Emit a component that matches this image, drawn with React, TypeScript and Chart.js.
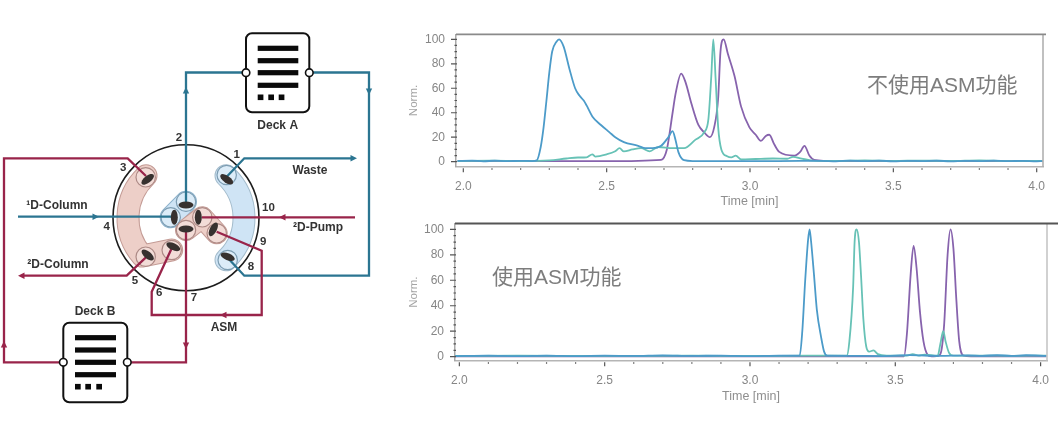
import React, { useEffect, useRef } from "react";
import { Chart, registerables } from "chart.js";

Chart.register(...registerables);

// ---------- chromatogram data (time in min, normalised signal) ----------
type Pair = [number, number];

const xTickValues = [2.0, 2.1, 2.2, 2.3, 2.4, 2.5, 2.6, 2.7, 2.8, 2.9, 3.0, 3.1, 3.2, 3.3, 3.4, 3.5, 3.6, 3.7, 3.8, 3.9, 4.0];
const xTickLabels = [2.0, 2.5, 3.0, 3.5, 4.0];
const yTickValues = [0, 5, 10, 15, 20, 25, 30, 35, 40, 45, 50, 55, 60, 65, 70, 75, 80, 85, 90, 95, 100];
const yTickLabels = [0, 20, 40, 60, 80, 100];

const topTitle = "不使用ASM功能";
const bottomTitle = "使用ASM功能";

const topBlue: Pair[] = [
  [1.98, 0.6], [2.03, 0.9], [2.07, 0.3], [2.11, 0.8], [2.15, 0.4], [2.2, 0.7], [2.24, 0.5], [2.256, 1], [2.27, 12], [2.28, 28], [2.29, 50], [2.3, 73], [2.31, 90], [2.325, 98],
  [2.334, 100], [2.35, 94], [2.37, 76], [2.39, 60], [2.405, 54], [2.42, 50], [2.43, 46], [2.45, 37], [2.48, 30], [2.51, 24], [2.53, 20], [2.56, 16],
  [2.61, 13], [2.635, 11], [2.66, 11], [2.69, 13], [2.715, 20], [2.73, 25], [2.74, 18], [2.75, 8], [2.77, 1.2], [2.8, 0.5], [2.9, 0.5], [3.0, 0.5],
  [3.1, 0.5], [3.25, 0.7], [3.3, 0.3], [3.35, 0.9], [3.4, 0.4], [3.45, 0.8], [3.5, 0.3], [3.55, 0.7], [3.6, 0.5], [3.65, 0.8], [3.7, 0.3], [3.75, 0.7], [3.8, 0.5], [3.85, 0.9], [3.9, 0.4], [3.95, 0.7], [4.0, 0.3], [4.02, 0.5],
];
const topTeal: Pair[] = [
  [1.98, 0.5], [2.1, 0.8], [2.2, 0.5], [2.3, 1], [2.36, 2.6], [2.4, 3.4], [2.43, 3.6], [2.45, 6], [2.46, 4.2], [2.5, 6], [2.53, 8.5], [2.545, 11], [2.56, 8.4], [2.59, 10], [2.62, 11],
  [2.65, 8.5], [2.68, 12], [2.73, 11], [2.77, 11], [2.81, 18], [2.84, 24], [2.855, 35], [2.865, 70], [2.872, 100], [2.88, 68], [2.889, 28], [2.9, 10], [2.92, 4.5], [2.935, 3.5], [2.95, 5],
  [2.97, 1.8], [3.02, 2.2], [3.08, 2.6], [3.13, 2.4], [3.15, 4], [3.18, 2.5], [3.22, 0.9], [3.3, 0.6], [3.4, 1], [3.5, 0.6], [3.6, 0.9], [3.7, 0.6], [3.8, 1.1], [3.9, 0.5], [4.02, 0.7],
];
const topPurple: Pair[] = [
  [1.98, 0.4], [2.3, 0.4], [2.5, 0.4], [2.69, 1.5], [2.71, 10], [2.73, 40], [2.74, 55], [2.76, 72], [2.775, 65], [2.795, 48], [2.82, 30], [2.84, 24], [2.86, 20], [2.875, 28], [2.889, 52],
  [2.897, 90], [2.908, 100], [2.923, 88], [2.946, 70], [2.969, 45], [2.998, 28], [3.02, 22], [3.038, 17], [3.055, 21], [3.067, 22], [3.085, 14], [3.102, 8], [3.155, 5], [3.175, 8], [3.19, 13], [3.207, 5], [3.224, 1.5], [3.3, 0.5], [4.02, 0.5],
];

const bottomBlue: Pair[] = [
  [1.985, 0.5], [2.1, 0.8], [2.2, 0.4], [2.3, 0.9], [2.4, 0.5], [2.5, 0.8], [2.6, 0.6], [2.7, 1.1], [2.8, 0.6], [2.9, 0.9], [3.0, 0.5], [3.1, 0.9], [3.171, 0.8], [3.18, 20], [3.19, 60], [3.2, 92], [3.205, 100], [3.21, 91], [3.22, 65], [3.23, 37], [3.245, 15], [3.255, 4], [3.266, 0.8],
  [3.35, 0.7], [3.45, 0.5], [3.55, 1.2], [3.65, 0.7], [3.75, 1.1], [3.8, 0.6], [3.85, 1.3], [3.9, 0.6], [3.95, 1.2], [4.02, 0.7],
];
const bottomTeal: Pair[] = [
  [1.985, 0.6], [2.2, 0.8], [2.5, 0.6], [2.8, 0.8], [3.0, 0.6], [3.2, 0.8], [3.333, 0.8], [3.342, 12], [3.355, 55], [3.36, 90], [3.367, 100], [3.375, 90], [3.383, 60], [3.39, 30], [3.4, 8], [3.41, 4], [3.425, 5], [3.44, 2], [3.47, 0.8],
  [3.54, 0.8], [3.56, 2], [3.58, 0.8], [3.6, 1.6], [3.646, 0.8], [3.655, 10], [3.665, 20], [3.673, 12], [3.685, 3], [3.7, 0.8], [3.8, 0.9], [3.9, 0.7], [4.02, 0.9],
];
const bottomPurple: Pair[] = [
  [1.985, 0.3], [3.53, 0.3], [3.54, 18], [3.553, 65], [3.563, 87], [3.573, 70], [3.585, 35], [3.597, 12], [3.61, 2], [3.625, 0.3], [3.645, 0.5], [3.655, 2], [3.668, 25], [3.68, 80], [3.69, 100], [3.7, 85], [3.71, 45], [3.72, 12], [3.735, 0.8], [3.76, 0.3], [4.02, 0.3],
];

// ---------- valve schematic routes ----------
const routeDeckAIn: Pair[] = [[186, 202], [186, 72.5], [246, 72.5]];
const routeDeckAOut: Pair[] = [[309, 72.5], [369, 72.5], [369, 275.7], [244.3, 275.7], [226.7, 256.7]];
const route1DColumn: Pair[] = [[18, 216.7], [172, 216.7]];
const routeWaste: Pair[] = [[226.7, 176.7], [244.3, 158.3], [353, 158.3]];
const routePort3: Pair[] = [[146, 176], [127.7, 158.3], [4, 158.3], [4, 362.3], [63.3, 362.3]];
const routeDeckBOut: Pair[] = [[127.3, 362.3], [186, 362.3], [186, 231]];
const route2DColumn: Pair[] = [[146.7, 256.7], [126.7, 275.7], [22, 275.7]];
const routeAsm: Pair[] = [[171.7, 248.3], [151.7, 291.7], [151.7, 315], [261.7, 315], [261.7, 250.7], [216.7, 231.7]];
const route2DPump: Pair[] = [[355, 217.3], [202, 217.3]];
const tealRoutes = [routeDeckAIn, routeDeckAOut, route1DColumn, routeWaste];
const redRoutes = [routePort3, routeDeckBOut, route2DColumn, routeAsm, route2DPump];

const portNumbers: [string, number, number][] = [
  ["1", 236.7, 155], ["2", 179, 137.5], ["3", 123.3, 167.7], ["4", 106.7, 227.3], ["5", 135, 280.7],
  ["6", 159.3, 293.3], ["7", 194, 298.3], ["8", 251, 266.7], ["9", 263.3, 242.3], ["10", 268.5, 207.7],
];
const pipeLabels: [string, number, number][] = [
  ["Deck A", 277.7, 125.5], ["Deck B", 95, 311.5], ["Waste", 310, 171], ["¹D-Column", 57, 206],
  ["²D-Column", 58, 265], ["²D-Pump", 318, 228], ["ASM", 224, 328],
];
// x, y, direction in radians
const arrowMarks: [number, number, number][] = [
  [186, 91, -Math.PI / 2], [369, 91, Math.PI / 2], [353, 158.3, 0], [95, 216.7, 0], [283, 217.3, Math.PI],
  [224, 315, Math.PI], [186, 345, Math.PI / 2], [4, 345, -Math.PI / 2], [22, 275.7, Math.PI],
];
// ring centre x, y
const bluePorts: Pair[] = [[226.7, 175], [227.7, 260], [186, 201.7], [170.7, 217.3]];
const redPorts: Pair[] = [[145.7, 177.3], [145.7, 256.7], [171.7, 250], [202.3, 217.3], [186, 230], [216.7, 233.3]];
// lens centre x, y, angle in degrees
const portLenses: [number, number, number][] = [
  [226.7, 179.3, 35], [227.7, 256.7, 22], [186, 205, 0], [174.3, 217.3, 90],
  [147.7, 179.3, -38], [147.7, 255, 40], [173.3, 246.7, 25], [198.3, 217.3, 90], [186, 229, 0], [213.3, 229.3, -62],
];

const TEAL = "#2b7591";
const RED = "#99244a";
const LABEL = "#333333";
const SANS = '"Liberation Sans", Arial, sans-serif';

function chromatogramPlugin(opts: {
  title: string; titleX: number; titleY: number; topColor: string; topWidth: number; topRight: number; sideColor: string;
}) {
  return {
    id: "chromFrame",
    afterDraw(chart: any) {
      const { ctx, chartArea: a, scales } = chart;
      ctx.save();
      ctx.strokeStyle = opts.sideColor;
      ctx.lineWidth = 1.5;
      ctx.beginPath();
      ctx.moveTo(a.right, a.top);
      ctx.lineTo(a.right, a.bottom);
      ctx.stroke();
      ctx.strokeStyle = opts.topColor;
      ctx.lineWidth = opts.topWidth;
      ctx.beginPath();
      ctx.moveTo(a.left, a.top);
      ctx.lineTo(opts.topRight, a.top);
      ctx.stroke();
      ctx.strokeStyle = "#555";
      ctx.lineWidth = 1.2;
      ctx.beginPath();
      for (const v of xTickValues) {
        const x = scales.x.getPixelForValue(v);
        const major = xTickLabels.includes(v);
        ctx.moveTo(x, a.bottom + 1.5);
        ctx.lineTo(x, a.bottom + (major ? 5.5 : 3));
      }
      for (const v of yTickValues) {
        const y = scales.y.getPixelForValue(v);
        const major = yTickLabels.includes(v);
        ctx.moveTo(a.left - (major ? 5 : 1.5), y);
        ctx.lineTo(a.left + 1, y);
      }
      ctx.stroke();
      ctx.fillStyle = "#7d7d7d";
      ctx.font = `21px ${SANS}, "Noto Sans CJK SC"`;
      ctx.textAlign = "left";
      ctx.textBaseline = "middle";
      ctx.fillText(opts.title, opts.titleX, opts.titleY);
      ctx.restore();
    },
  };
}

function makeChromatogram(
  canvas: HTMLCanvasElement,
  series: { blue: Pair[]; teal: Pair[]; purple: Pair[] },
  g: { xMin: number; xMax: number; yMin: number; yMax: number; padRight: number; padTop: number; yWidth: number; xHeight: number; xTitlePad: number },
  plugin: any,
) {
  const line = (data: Pair[], color: string) => ({
    data: data.map(([x, y]) => ({ x, y })),
    borderColor: color,
    borderWidth: 1.8,
    pointRadius: 0,
    cubicInterpolationMode: "monotone" as const,
    fill: false,
  });
  return new Chart(canvas, {
    type: "line",
    data: { datasets: [line(series.blue, "#4c9bc9"), line(series.teal, "#67c2b6"), line(series.purple, "#8763ad")] },
    plugins: [plugin],
    options: {
      animation: false,
      responsive: false,
      devicePixelRatio: 1,
      events: [],
      layout: { padding: { right: g.padRight, top: g.padTop, left: 0, bottom: 0 } },
      plugins: { legend: { display: false }, tooltip: { enabled: false } },
      scales: {
        x: {
          type: "linear",
          min: g.xMin,
          max: g.xMax,
          afterBuildTicks: (s: any) => { s.ticks = xTickValues.map((value) => ({ value })); },
          afterFit: (s: any) => { s.height = g.xHeight; s.paddingLeft = 0; s.paddingRight = 0; },
          grid: { display: false, drawTicks: false },
          border: { color: "#b5b5b5", width: 1.5 },
          ticks: {
            autoSkip: false, maxRotation: 0, padding: 13, color: "#868686",
            font: { family: SANS, size: 12 },
            callback: (v: any) => (xTickLabels.includes(v) ? Number(v).toFixed(1) : ""),
          },
          title: { display: true, text: "Time [min]", color: "#8f8f8f", font: { family: SANS, size: 12.5 }, padding: { top: 0, bottom: g.xTitlePad } },
        },
        y: {
          type: "linear",
          min: g.yMin,
          max: g.yMax,
          afterBuildTicks: (s: any) => { s.ticks = yTickLabels.map((value) => ({ value })); },
          afterFit: (s: any) => { s.width = g.yWidth; s.paddingTop = 0; s.paddingBottom = 0; },
          grid: { display: false, drawTicks: false },
          border: { color: "#a8a8a8", width: 1.5 },
          ticks: { padding: 11, color: "#868686", font: { family: SANS, size: 12 } },
          title: { display: true, text: "Norm.", color: "#a5a5a5", font: { family: SANS, size: 11.5 }, padding: { top: 7, bottom: 0 } },
        },
      },
    },
  } as any);
}

const schematicPlugin = {
  id: "valveSchematic",
  beforeDatasetsDraw(chart: any) {
    const { ctx, scales } = chart;
    const X = (v: number) => scales.x.getPixelForValue(v);
    const Y = (v: number) => scales.y.getPixelForValue(v);
    const cx = X(186), cy = Y(217.8);
    ctx.save();
    ctx.lineCap = "round";
    ctx.lineJoin = "round";
    const blob = (draw: () => void, width: number, fill: string, edge: string) => {
      ctx.beginPath(); draw(); ctx.strokeStyle = edge; ctx.lineWidth = width + 2; ctx.stroke();
      ctx.beginPath(); draw(); ctx.strokeStyle = fill; ctx.lineWidth = width; ctx.stroke();
    };
    ctx.beginPath();
    ctx.arc(cx, cy, 73, 0, Math.PI * 2);
    ctx.strokeStyle = "#1d1d1d";
    ctx.lineWidth = 1.6;
    ctx.stroke();
    const BF = "#cfe4f5", BE = "#a4bccc", RF = "#edcfc8", RE = "#c49c96";
    blob(() => ctx.arc(cx, cy, 58, -0.81, 0.81), 21, BF, BE);
    blob(() => { ctx.arc(cx, cy, 58, Math.PI + 0.81, Math.PI - 0.72, true); ctx.lineTo(X(171.7), Y(250)); }, 21, RF, RE);
    blob(() => { ctx.moveTo(X(186), Y(201.7)); ctx.lineTo(X(170.7), Y(217.3)); }, 20, BF, "#8db2cc");
    blob(() => { ctx.moveTo(X(186), Y(230)); ctx.lineTo(X(202.3), Y(217.3)); ctx.lineTo(X(216.7), Y(233.3)); }, 20, RF, RE);
    const ring = (x: number, y: number, c: string, f: string) => {
      ctx.beginPath(); ctx.arc(X(x), Y(y), 9.7, 0, Math.PI * 2); ctx.fillStyle = f; ctx.fill(); ctx.strokeStyle = c; ctx.lineWidth = 1.2; ctx.stroke();
    };
    bluePorts.forEach(([x, y]) => ring(x, y, "#7d9db2", "#dcecf8"));
    redPorts.forEach(([x, y]) => ring(x, y, "#ad8a86", "#f2dcd7"));
    ctx.restore();
  },
  afterDatasetsDraw(chart: any) {
    const { ctx, scales } = chart;
    const X = (v: number) => scales.x.getPixelForValue(v);
    const Y = (v: number) => scales.y.getPixelForValue(v);
    ctx.save();
    ctx.fillStyle = "#37312f";
    portLenses.forEach(([x, y, deg]) => {
      ctx.beginPath();
      ctx.ellipse(X(x), Y(y), 7.5, 3.5, (deg * Math.PI) / 180, 0, Math.PI * 2);
      ctx.fill();
    });
    arrowMarks.forEach(([x, y, dir], i) => {
      ctx.save();
      ctx.translate(X(x), Y(y));
      ctx.rotate(dir);
      ctx.beginPath();
      ctx.moveTo(4, 0); ctx.lineTo(-2.5, -3.2); ctx.lineTo(-2.5, 3.2); ctx.closePath();
      ctx.fillStyle = i < 4 ? TEAL : RED;
      ctx.fill();
      ctx.restore();
    });
    const deck = (l: number, t: number, r: number, b: number, bars: number[], barL: number, barR: number, dotY: number, dots: number[], portY: number) => {
      ctx.beginPath();
      ctx.roundRect(X(l), Y(t), X(r) - X(l), Y(b) - Y(t), 6);
      ctx.fillStyle = "#ffffff";
      ctx.fill();
      ctx.strokeStyle = "#111";
      ctx.lineWidth = 2;
      ctx.stroke();
      ctx.fillStyle = "#0a0a0a";
      bars.forEach((y) => ctx.fillRect(X(barL), Y(y) - 2.6, X(barR) - X(barL), 5.2));
      dots.forEach((x) => ctx.fillRect(X(x), Y(dotY) - 2.8, 5.7, 5.6));
      [l, r].forEach((x) => {
        ctx.beginPath();
        ctx.arc(X(x), Y(portY), 3.8, 0, Math.PI * 2);
        ctx.fillStyle = "#fff";
        ctx.fill();
        ctx.lineWidth = 1.6;
        ctx.strokeStyle = "#111";
        ctx.stroke();
      });
    };
    deck(246, 33.3, 309.3, 112.3, [48.3, 60.7, 72.7, 85.3], 257.7, 298.3, 97.3, [257.7, 268.3, 278.7], 72.7);
    deck(63.3, 322.7, 127.3, 402.3, [337.7, 350, 362.3, 374.7], 75, 116, 386.7, [75, 85.3, 96.3], 362.3);
    ctx.textAlign = "center";
    ctx.textBaseline = "middle";
    ctx.fillStyle = LABEL;
    ctx.font = `bold 12px ${SANS}`;
    pipeLabels.forEach(([t, x, y]) => ctx.fillText(t, X(x), Y(y)));
    ctx.font = `bold 11.5px ${SANS}`;
    portNumbers.forEach(([t, x, y]) => ctx.fillText(t, X(x), Y(y)));
    ctx.restore();
  },
};

function makeSchematic(canvas: HTMLCanvasElement) {
  const route = (data: Pair[], color: string) => ({
    data: data.map(([x, y]) => ({ x, y })),
    borderColor: color,
    borderWidth: 2.3,
    pointRadius: 0,
    tension: 0,
    fill: false,
    borderJoinStyle: "miter" as const,
  });
  return new Chart(canvas, {
    type: "line",
    data: { datasets: [...redRoutes.map((r) => route(r, RED)), ...tealRoutes.map((r) => route(r, TEAL))] },
    plugins: [schematicPlugin],
    options: {
      animation: false,
      responsive: false,
      devicePixelRatio: 1,
      events: [],
      layout: { padding: 0 },
      plugins: { legend: { display: false }, tooltip: { enabled: false } },
      scales: {
        x: { type: "linear", min: 0, max: 395, display: false },
        y: { type: "linear", min: 0, max: 434, reverse: true, display: false },
      },
    },
  } as any);
}

export default function App() {
  const left = useRef<HTMLCanvasElement>(null);
  const top = useRef<HTMLCanvasElement>(null);
  const bottom = useRef<HTMLCanvasElement>(null);

  useEffect(() => {
    document.body.style.margin = "0";
    document.body.style.background = "#fff";
    const charts = [
      makeSchematic(left.current!),
      makeChromatogram(
        top.current!,
        { blue: topBlue, teal: topTeal, purple: topPurple },
        { xMin: 1.9745, xMax: 4.022, yMin: -4.1, yMax: 104.1, padRight: 17, padTop: 14.3, yWidth: 56, xHeight: 43.3, xTitlePad: 0.5 },
        chromatogramPlugin({ title: topTitle, titleX: 467, titleY: 66, topColor: "#8a8a8a", topWidth: 1.8, topRight: 646, sideColor: "#ababab" }),
      ),
      makeChromatogram(
        bottom.current!,
        { blue: bottomBlue, teal: bottomTeal, purple: bottomPurple },
        { xMin: 1.985, xMax: 4.022, yMin: -3.14, yMax: 104.55, padRight: 16, padTop: 13.5, yWidth: 55, xHeight: 49.3, xTitlePad: 5.5 },
        chromatogramPlugin({ title: bottomTitle, titleX: 92, titleY: 68, topColor: "#555555", topWidth: 2.2, topRight: 658, sideColor: "#c2c2c2" }),
      ),
    ];
    return () => charts.forEach((c) => c.destroy());
  }, []);

  const abs = (l: number, t: number, blur: number): React.CSSProperties => ({ position: "absolute", left: l, top: t, filter: `blur(${blur}px)` });
  return (
    <div style={{ position: "relative", width: 1063, height: 434, overflow: "hidden", background: "#fff" }}>
      <canvas ref={left} width={395} height={434} style={abs(0, 0, 0.35)} />
      <canvas ref={top} width={660} height={190} style={abs(400, 20, 0.55)} />
      <canvas ref={bottom} width={663} height={200} style={abs(400, 210, 0.55)} />
    </div>
  );
}
